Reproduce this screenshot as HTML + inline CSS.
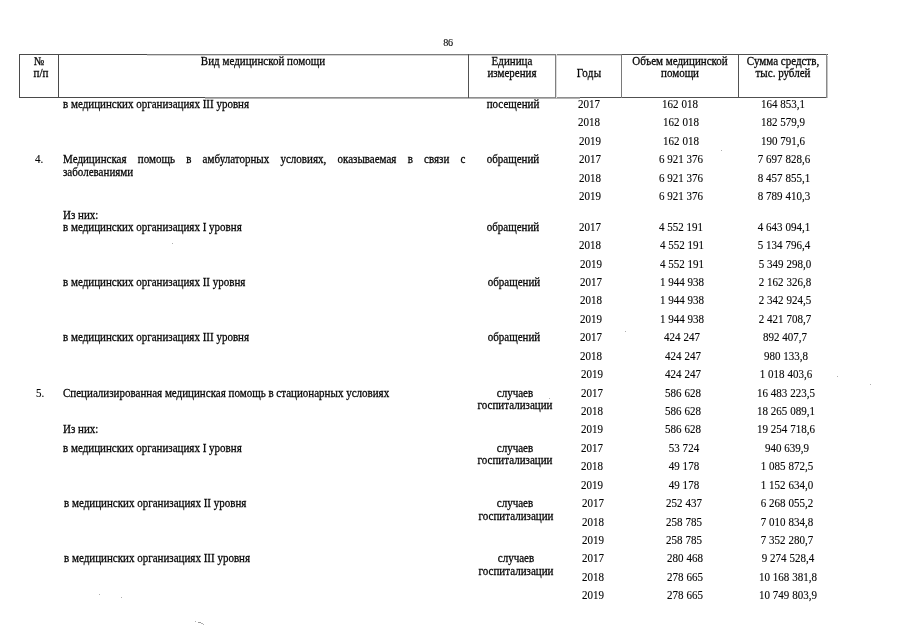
<!DOCTYPE html><html lang="ru"><head><meta charset="utf-8"><title>86</title><style>
html,body{margin:0;padding:0;background:#fff;}
body{width:905px;height:640px;position:relative;overflow:hidden;font-family:"Liberation Serif","Times New Roman",serif;color:#050505;-webkit-text-stroke:0.27px #050505;}
.t{position:absolute;white-space:nowrap;line-height:1;}
.t{transform-origin:0 50%;transform:scaleX(0.917);}
.c{transform-origin:50% 50%;transform:translateX(-50%) scaleX(0.917);}
.j{white-space:normal;text-align:justify;text-align-last:justify;}
.ln{position:absolute;background:#4a4a4a;}
.n{-webkit-text-stroke-width:0.12px;}
.sp{position:absolute;width:1px;height:1px;background:#b0b0b0;}
</style></head><body>
<div class="ln" style="left:19px;top:54px;width:128px;height:1px"></div>
<div class="ln" style="left:147px;top:54px;width:474px;height:1px;background:#7c7c7c"></div>
<div class="ln" style="left:147px;top:55px;width:474px;height:1px;background:#d4d4d4"></div>
<div class="ln" style="left:621px;top:54px;width:207px;height:1px;background:#505050"></div>
<div class="ln" style="left:19px;top:97px;width:186px;height:1px"></div>
<div class="ln" style="left:205px;top:97px;width:375px;height:1px;background:#8e8e8e"></div>
<div class="ln" style="left:205px;top:98px;width:375px;height:1px;background:#b4b4b4"></div>
<div class="ln" style="left:580px;top:97px;width:248px;height:1px;background:#505050"></div>
<div class="ln" style="left:19px;top:54px;width:1px;height:44px"></div>
<div class="ln" style="left:58px;top:54px;width:1px;height:44px"></div>
<div class="ln" style="left:468px;top:54px;width:1px;height:44px;background:#525252"></div>
<div class="ln" style="left:555px;top:54px;width:1px;height:44px;background:#808080"></div>
<div class="ln" style="left:556px;top:54px;width:1px;height:44px;background:#dcdcdc"></div>
<div class="ln" style="left:621px;top:54px;width:1px;height:44px;background:#7a7a7a"></div>
<div class="ln" style="left:738px;top:54px;width:1px;height:44px;background:#525252"></div>
<div class="ln" style="left:826px;top:54px;width:1px;height:44px;background:#8a8a8a"></div>
<div class="ln" style="left:827px;top:56px;width:1px;height:42px;background:#c4c4c4"></div>
<div class="sp" style="left:99px;top:594px"></div>
<div class="sp" style="left:121px;top:597px"></div>
<div class="sp" style="left:195px;top:621px"></div>
<div class="sp" style="left:198px;top:622px;width:3px;background:#999"></div>
<div class="sp" style="left:201px;top:623px;width:2px"></div>
<div class="sp" style="left:203px;top:624px"></div>
<div class="sp" style="left:721px;top:150px"></div>
<div class="sp" style="left:625px;top:331px"></div>
<div class="sp" style="left:837px;top:376px"></div>
<div class="sp" style="left:870px;top:384px"></div>
<div class="sp" style="left:549px;top:398px"></div>
<div class="sp" style="left:172px;top:243px"></div>

<div class="t c n" style="left:589.33px;top:98px;font-size:12px;">2017</div>
<div class="t c n" style="left:680.33px;top:98px;font-size:12px;">162 018</div>
<div class="t c n" style="left:782.94px;top:98px;font-size:12px;">164 853,1</div>
<div class="t c n" style="left:589.48px;top:116px;font-size:12px;">2018</div>
<div class="t c n" style="left:680.50px;top:116px;font-size:12px;">162 018</div>
<div class="t c n" style="left:783.13px;top:116px;font-size:12px;">182 579,9</div>
<div class="t c n" style="left:589.63px;top:135px;font-size:12px;">2019</div>
<div class="t c n" style="left:680.67px;top:135px;font-size:12px;">162 018</div>
<div class="t c n" style="left:783.32px;top:135px;font-size:12px;">190 791,6</div>
<div class="t c" style="left:512.53px;top:98px;font-size:12px;">посещений</div>
<div class="t" style="left:62.61px;top:98px;font-size:12px;">в медицинских организациях III уровня</div>
<div class="t c n" style="left:589.79px;top:153px;font-size:12px;">2017</div>
<div class="t c n" style="left:680.85px;top:153px;font-size:12px;">6 921 376</div>
<div class="t c n" style="left:783.51px;top:153px;font-size:12px;">7 697 828,6</div>
<div class="t c n" style="left:589.94px;top:172px;font-size:12px;">2018</div>
<div class="t c n" style="left:681.02px;top:172px;font-size:12px;">6 921 376</div>
<div class="t c n" style="left:783.70px;top:172px;font-size:12px;">8 457 855,1</div>
<div class="t c n" style="left:590.09px;top:190px;font-size:12px;">2019</div>
<div class="t c n" style="left:681.19px;top:190px;font-size:12px;">6 921 376</div>
<div class="t c n" style="left:783.90px;top:190px;font-size:12px;">8 789 410,3</div>
<div class="t c" style="left:512.93px;top:153px;font-size:12px;">обращений</div>
<div class="t c n" style="left:590.34px;top:221px;font-size:12px;">2017</div>
<div class="t c n" style="left:681.47px;top:221px;font-size:12px;">4 552 191</div>
<div class="t c n" style="left:784.22px;top:221px;font-size:12px;">4 643 094,1</div>
<div class="t c n" style="left:590.49px;top:239px;font-size:12px;">2018</div>
<div class="t c n" style="left:681.64px;top:239px;font-size:12px;">4 552 191</div>
<div class="t c n" style="left:784.41px;top:239px;font-size:12px;">5 134 796,4</div>
<div class="t c n" style="left:590.64px;top:258px;font-size:12px;">2019</div>
<div class="t c n" style="left:681.81px;top:258px;font-size:12px;">4 552 191</div>
<div class="t c n" style="left:784.60px;top:258px;font-size:12px;">5 349 298,0</div>
<div class="t c" style="left:513.43px;top:221px;font-size:12px;">обращений</div>
<div class="t" style="left:62.89px;top:221px;font-size:12px;">в медицинских организациях I уровня</div>
<div class="t c n" style="left:590.80px;top:276px;font-size:12px;">2017</div>
<div class="t c n" style="left:681.98px;top:276px;font-size:12px;">1 944 938</div>
<div class="t c n" style="left:784.79px;top:276px;font-size:12px;">2 162 326,8</div>
<div class="t c n" style="left:590.95px;top:294px;font-size:12px;">2018</div>
<div class="t c n" style="left:682.15px;top:294px;font-size:12px;">1 944 938</div>
<div class="t c n" style="left:784.98px;top:294px;font-size:12px;">2 342 924,5</div>
<div class="t c n" style="left:591.10px;top:313px;font-size:12px;">2019</div>
<div class="t c n" style="left:682.32px;top:313px;font-size:12px;">1 944 938</div>
<div class="t c n" style="left:785.17px;top:313px;font-size:12px;">2 421 708,7</div>
<div class="t c" style="left:513.84px;top:276px;font-size:12px;">обращений</div>
<div class="t" style="left:63.02px;top:276px;font-size:12px;">в медицинских организациях II уровня</div>
<div class="t c n" style="left:591.25px;top:331px;font-size:12px;">2017</div>
<div class="t c n" style="left:682.49px;top:331px;font-size:12px;">424 247</div>
<div class="t c n" style="left:785.36px;top:331px;font-size:12px;">892 407,7</div>
<div class="t c n" style="left:591.40px;top:350px;font-size:12px;">2018</div>
<div class="t c n" style="left:682.66px;top:350px;font-size:12px;">424 247</div>
<div class="t c n" style="left:785.56px;top:350px;font-size:12px;">980 133,8</div>
<div class="t c n" style="left:591.55px;top:368px;font-size:12px;">2019</div>
<div class="t c n" style="left:682.83px;top:368px;font-size:12px;">424 247</div>
<div class="t c n" style="left:785.75px;top:368px;font-size:12px;">1 018 403,6</div>
<div class="t c" style="left:514.25px;top:331px;font-size:12px;">обращений</div>
<div class="t" style="left:63.15px;top:331px;font-size:12px;">в медицинских организациях III уровня</div>
<div class="t c n" style="left:591.71px;top:387px;font-size:12px;">2017</div>
<div class="t c n" style="left:683.00px;top:387px;font-size:12px;">586 628</div>
<div class="t c n" style="left:785.94px;top:387px;font-size:12px;">16 483 223,5</div>
<div class="t c n" style="left:591.86px;top:405px;font-size:12px;">2018</div>
<div class="t c n" style="left:683.17px;top:405px;font-size:12px;">586 628</div>
<div class="t c n" style="left:786.13px;top:405px;font-size:12px;">18 265 089,1</div>
<div class="t c n" style="left:592.01px;top:423px;font-size:12px;">2019</div>
<div class="t c n" style="left:683.34px;top:423px;font-size:12px;">586 628</div>
<div class="t c n" style="left:786.32px;top:423px;font-size:12px;">19 254 718,6</div>
<div class="t c" style="left:514.65px;top:387px;font-size:12px;">случаев</div>
<div class="t c" style="left:514.75px;top:399px;font-size:12px;">госпитализации</div>
<div class="t" style="left:63.28px;top:387px;font-size:12px;">Специализированная медицинская помощь в стационарных условиях</div>
<div class="t c n" style="left:592.16px;top:442px;font-size:12px;">2017</div>
<div class="t c n" style="left:683.51px;top:442px;font-size:12px;">53 724</div>
<div class="t c n" style="left:786.51px;top:442px;font-size:12px;">940 639,9</div>
<div class="t c n" style="left:592.31px;top:460px;font-size:12px;">2018</div>
<div class="t c n" style="left:683.69px;top:460px;font-size:12px;">49 178</div>
<div class="t c n" style="left:786.71px;top:460px;font-size:12px;">1 085 872,5</div>
<div class="t c n" style="left:592.46px;top:479px;font-size:12px;">2019</div>
<div class="t c n" style="left:683.86px;top:479px;font-size:12px;">49 178</div>
<div class="t c n" style="left:786.90px;top:479px;font-size:12px;">1 152 634,0</div>
<div class="t c" style="left:515.06px;top:442px;font-size:12px;">случаев</div>
<div class="t c" style="left:515.15px;top:454px;font-size:12px;">госпитализации</div>
<div class="t" style="left:63.41px;top:442px;font-size:12px;">в медицинских организациях I уровня</div>
<div class="t c n" style="left:592.62px;top:497px;font-size:12px;">2017</div>
<div class="t c n" style="left:684.03px;top:497px;font-size:12px;">252 437</div>
<div class="t c n" style="left:787.09px;top:497px;font-size:12px;">6 268 055,2</div>
<div class="t c n" style="left:592.77px;top:516px;font-size:12px;">2018</div>
<div class="t c n" style="left:684.20px;top:516px;font-size:12px;">258 785</div>
<div class="t c n" style="left:787.28px;top:516px;font-size:12px;">7 010 834,8</div>
<div class="t c n" style="left:592.92px;top:534px;font-size:12px;">2019</div>
<div class="t c n" style="left:684.37px;top:534px;font-size:12px;">258 785</div>
<div class="t c n" style="left:787.47px;top:534px;font-size:12px;">7 352 280,7</div>
<div class="t c" style="left:515.47px;top:497px;font-size:12px;">случаев</div>
<div class="t c" style="left:515.56px;top:510px;font-size:12px;">госпитализации</div>
<div class="t" style="left:63.54px;top:497px;font-size:12px;">в медицинских организациях II уровня</div>
<div class="t c n" style="left:593.07px;top:552px;font-size:12px;">2017</div>
<div class="t c n" style="left:684.54px;top:552px;font-size:12px;">280 468</div>
<div class="t c n" style="left:787.66px;top:552px;font-size:12px;">9 274 528,4</div>
<div class="t c n" style="left:593.22px;top:571px;font-size:12px;">2018</div>
<div class="t c n" style="left:684.71px;top:571px;font-size:12px;">278 665</div>
<div class="t c n" style="left:787.85px;top:571px;font-size:12px;">10 168 381,8</div>
<div class="t c n" style="left:593.37px;top:589px;font-size:12px;">2019</div>
<div class="t c n" style="left:684.88px;top:589px;font-size:12px;">278 665</div>
<div class="t c n" style="left:788.05px;top:589px;font-size:12px;">10 749 803,9</div>
<div class="t c" style="left:515.88px;top:552px;font-size:12px;">случаев</div>
<div class="t c" style="left:515.97px;top:565px;font-size:12px;">госпитализации</div>
<div class="t" style="left:63.67px;top:552px;font-size:12px;">в медицинских организациях III уровня</div>
<div class="t j" style="left:62.74px;top:153px;font-size:12px;width:438.93px;">Медицинская помощь в амбулаторных условиях, оказываемая в связи с</div>
<div class="t" style="left:62.77px;top:166px;font-size:12px;">заболеваниями</div>
<div class="t n" style="left:35.12px;top:153px;font-size:12px;">4.</div>
<div class="t n" style="left:35.59px;top:387px;font-size:12px;">5.</div>
<div class="t" style="left:62.87px;top:209px;font-size:12px;">Из них:</div>
<div class="t" style="left:63.37px;top:423px;font-size:12px;">Из них:</div>
<div class="t c" style="left:38.75px;top:55px;font-size:12px;">№</div>
<div class="t c" style="left:40.60px;top:67px;font-size:12px;">п/п</div>
<div class="t c" style="left:263.10px;top:55px;font-size:12px;">Вид медицинской помощи</div>
<div class="t c" style="left:512.10px;top:55px;font-size:12px;">Единица</div>
<div class="t c" style="left:512.10px;top:67px;font-size:12px;">измерения</div>
<div class="t c" style="left:589.10px;top:67px;font-size:12px;letter-spacing:0.3px;">Годы</div>
<div class="t c" style="left:679.80px;top:55px;font-size:12px;">Объем медицинской</div>
<div class="t c" style="left:680.40px;top:67px;font-size:12px;">помощи</div>
<div class="t c" style="left:783.20px;top:55px;font-size:12px;">Сумма средств,</div>
<div class="t c" style="left:783.20px;top:67px;font-size:12px;">тыс. рублей</div>
<div class="t c n" style="left:447.50px;top:37px;font-size:11px;letter-spacing:-0.4px;">86</div>
</body></html>
